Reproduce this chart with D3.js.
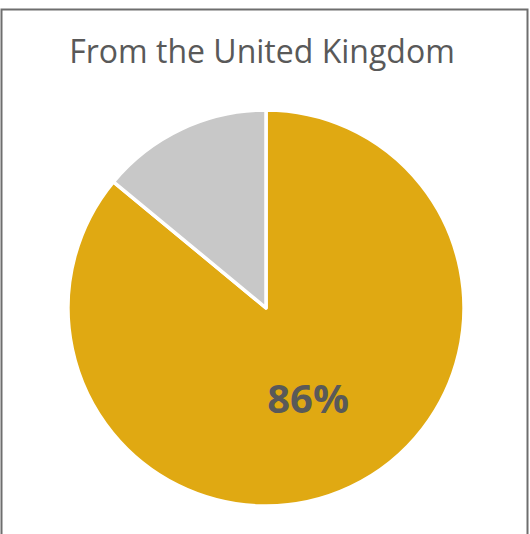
<!DOCTYPE html>
<html>
<head>
<meta charset="utf-8">
<script src="https://cdn.jsdelivr.net/npm/d3@7"></script>
<style>
  html, body { margin: 0; padding: 0; background: #fff; }
  svg { display: block; }
</style>
</head>
<body>
<svg id="chart" width="530" height="534"></svg>
<script>
// Share of respondents from the United Kingdom
const title = "From the United Kingdom";
const categories = ["United Kingdom", "Other"];
const values = [86, 14];
const colors = ["#E0A912", "#C8C8C8"];

const svg = d3.select("#chart");

// chart frame
svg.append("rect")
  .attr("x", 1.5).attr("y", 9.5)
  .attr("width", 526).attr("height", 540)
  .attr("fill", "#fff")
  .attr("stroke", "#6e6e6e")
  .attr("stroke-width", 2);

svg.append("text")
  .attr("x", 262).attr("y", 63)
  .attr("text-anchor", "middle")
  .attr("font-family", "Open Sans, sans-serif")
  .attr("font-size", 32)
  .attr("fill", "#595959")
  .text(title);

const cx = 266, cy = 308, r = 198;
const data = categories.map((c, i) => ({ name: c, value: values[i], color: colors[i] }));

const pie = d3.pie().value(d => d.value).sort(null);
const arc = d3.arc().innerRadius(0).outerRadius(r);
const arcs = pie(data);

const g = svg.append("g").attr("transform", `translate(${cx},${cy})`);
g.selectAll("path")
  .data(arcs)
  .join("path")
  .attr("d", arc)
  .attr("fill", d => d.data.color)
  .attr("stroke", "#fff")
  .attr("stroke-width", 3.5)
  .attr("stroke-linejoin", "round");

// value label on the main slice
const labelArc = d3.arc().innerRadius(r * 0.5).outerRadius(r * 0.5);
const main = arcs[0];
const [lx, ly] = labelArc.centroid(main);
g.append("text")
  .attr("x", lx).attr("y", ly)
  .attr("text-anchor", "middle")
  .attr("dominant-baseline", "central")
  .attr("font-family", "Open Sans, sans-serif")
  .attr("font-weight", "bold")
  .attr("font-size", 40)
  .attr("fill", "#595959")
  .text(main.data.value + "%");
</script>
</body>
</html>
